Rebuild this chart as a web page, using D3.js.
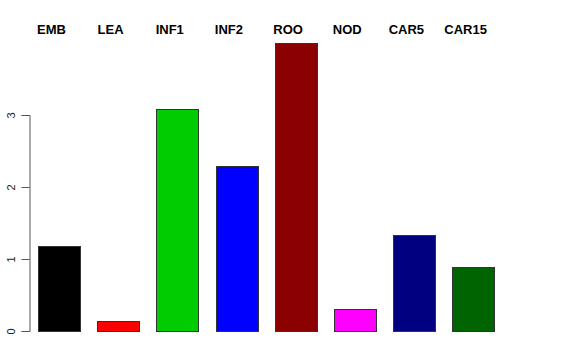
<!DOCTYPE html>
<html>
<head>
<meta charset="utf-8">
<script src="https://cdn.jsdelivr.net/npm/d3@7"></script>
<style>
  body { margin: 0; background: #fff; }
  text { font-family: "Liberation Sans", Arial, sans-serif; }
</style>
</head>
<body>
<div id="chart"></div>
<script>
var categories = ["EMB", "LEA", "INF1", "INF2", "ROO", "NOD", "CAR5", "CAR15"];
var values = [1.18, 0.135, 3.08, 2.29, 4.0, 0.305, 1.34, 0.885];
var colors = ["#000000", "#ff0000", "#00cd00", "#0000ff", "#8b0000", "#ff00ff", "#000080", "#006400"];
var yTicks = [0, 1, 2, 3];

var W = 576, H = 360;

var svg = d3.select("#chart")
  .append("svg")
  .attr("width", W)
  .attr("height", H);

var x = d3.scaleBand()
  .domain(categories)
  .range([38, 494])
  .paddingInner(0.293)
  .paddingOuter(0);

var y = d3.scaleLinear()
  .domain([0, 3])
  .range([331, 115]);

// bars
svg.selectAll(".bar")
  .data(categories)
  .enter()
  .append("rect")
  .attr("class", "bar")
  .attr("x", function (d) { return Math.round(x(d)) + 0.5; })
  .attr("y", function (d, i) { return Math.round(y(values[i])) + 0.5; })
  .attr("width", function () { return Math.round(x.bandwidth()); })
  .attr("height", function (d, i) { return Math.round(y(0)) - Math.round(y(values[i])); })
  .style("fill", function (d, i) { return colors[i]; })
  .style("stroke", "#333")
  .style("stroke-width", "1px");

// category labels across the top
svg.selectAll(".lab")
  .data(categories)
  .enter()
  .append("text")
  .attr("class", "lab")
  .attr("x", function (d) { return x(d) + x.bandwidth() / 2 - 7.5; })
  .attr("y", 34)
  .attr("text-anchor", "middle")
  .style("font-size", "13px")
  .style("font-weight", "bold")
  .attr("fill", "#000")
  .text(function (d) { return d; });

// left axis
var axis = svg.append("g")
  .attr("transform", "translate(29.5,0)")
  .call(d3.axisLeft(y).tickValues(yTicks).tickSize(8).tickPadding(0).tickFormat(d3.format("d")));

axis.select(".domain").attr("stroke", "#555");
axis.selectAll(".tick line").attr("stroke", "#555");
axis.selectAll(".tick text")
  .attr("x", 0)
  .attr("dy", 0)
  .attr("text-anchor", "middle")
  .attr("transform", "translate(-15,0) rotate(-90)")
  .style("font-size", "11px")
  .style("font-family", "'Liberation Sans', Arial, sans-serif")
  .attr("fill", "#222");
</script>
</body>
</html>
